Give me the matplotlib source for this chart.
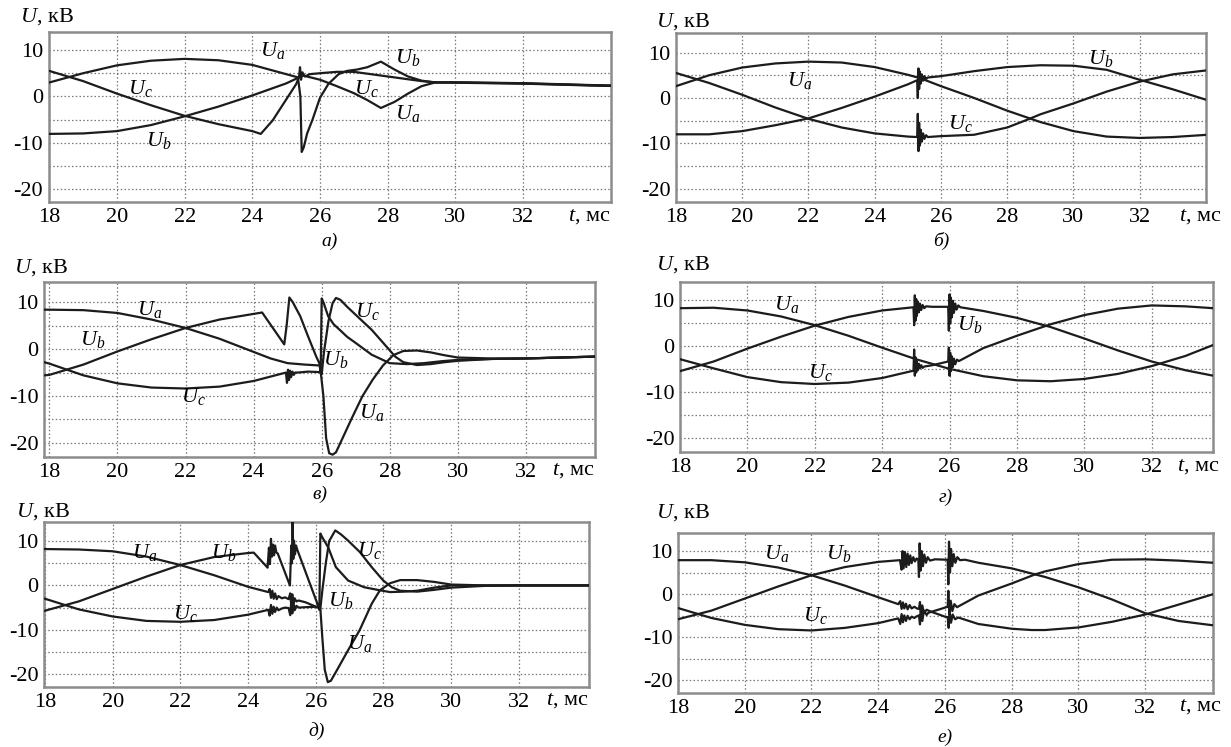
import matplotlib
matplotlib.use("Agg")
import matplotlib.pyplot as plt
from matplotlib.ticker import FixedLocator

plt.rcParams['font.family'] = ['Liberation Serif', 'DejaVu Serif']
plt.rcParams['mathtext.fontset'] = 'custom'
plt.rcParams['mathtext.rm'] = 'Liberation Serif'
plt.rcParams['mathtext.it'] = 'Liberation Serif:italic'
plt.rcParams['axes.unicode_minus'] = False

W, H = 1231, 747

# ---------------- common ticks ----------------
x_ticks = [18, 20, 22, 24, 26, 28, 30, 32]
y_ticks = [10, 0, -10, -20]
y_minor = [5, -5, -15]
panel_names = ['а)', 'б)', 'в)', 'г)', 'д)', 'е)']

# ---------------- panel а ----------------
a_Ua_t = [18, 19, 20, 21, 22, 23, 24, 25, 25.35, 25.5, 26, 26.5, 27, 27.4, 27.8, 28.2, 28.6, 29, 29.4, 30, 31, 32, 33, 34, 34.6]
a_Ua_u = [3.0, 5.0, 6.7, 7.7, 8.1, 7.8, 6.8, 4.8, 4.1, 4.5, 3.6, 2.2, 0.7, -0.8, -2.5, -1.2, 0.6, 2.2, 3.0, 3.0, 2.9, 2.8, 2.6, 2.4, 2.3]
a_Ub_t = [18, 19, 20, 21, 22, 23, 24, 25, 25.35, 25.42, 25.46, 25.52, 25.62, 25.78, 26.0, 26.25, 26.55, 26.8, 27.1, 27.4, 27.8, 28.2, 28.6, 29.0, 29.4, 30, 31, 32, 33, 34, 34.6]
a_Ub_u = [-8.1, -8.0, -7.5, -6.2, -4.3, -2.2, 0.2, 2.8, 4.0, 0.0, -12.0, -11.0, -8.0, -5.0, -0.3, 2.7, 4.8, 5.5, 5.8, 6.3, 7.5, 5.8, 4.3, 3.4, 3.0, 3.05, 2.95, 2.85, 2.65, 2.45, 2.35]
a_Uc_t = [18, 19, 20, 21, 22, 23, 24, 24.25, 24.6, 25.3, 25.38, 25.41, 25.44, 25.48, 25.55, 25.7, 26, 26.5, 27, 27.5, 28, 28.5, 29, 29.4, 30, 31, 32, 33, 34, 34.6]
a_Uc_u = [5.5, 3.3, 0.6, -1.9, -4.2, -6.0, -7.5, -8.1, -5.2, 2.7, 4.2, 6.3, 3.6, 5.2, 4.3, 4.8, 5.0, 5.3, 5.3, 4.8, 4.3, 3.8, 3.3, 3.05, 2.95, 2.85, 2.75, 2.55, 2.35, 2.25]
a_labels = [('a', 24.61, 9.9), ('b', 28.58, 8.5), ('c', 20.69, 1.65), ('c', 27.36, 1.65), ('a', 28.58, -3.7), ('b', 21.22, -9.5)]

# ---------------- panel б ----------------
b_Ua_t = [18, 19, 20, 21, 22, 23, 24, 25, 25.3, 25.5, 26, 27, 28, 29, 30, 31, 32, 33, 34.05]
b_Ua_u = [2.6, 5.0, 6.7, 7.6, 8.0, 7.8, 6.8, 5.1, 4.5, 4.0, 2.6, 0.0, -2.8, -5.3, -7.3, -8.5, -8.8, -8.6, -8.1]
b_Ub_t = [18, 19, 20, 21, 22, 23, 24, 25, 25.28, 25.3, 25.32, 25.34, 25.36, 25.39, 25.42, 25.46, 25.5, 25.55, 25.6, 26, 27, 28, 29, 30, 31, 32, 33, 34.05]
b_Ub_u = [-8.0, -8.0, -7.3, -6.0, -4.5, -2.2, 0.3, 3.0, 3.9, 0.0, 6.5, 2.0, 5.8, 3.2, 5.2, 3.8, 4.8, 4.2, 4.5, 4.8, 5.9, 6.8, 7.2, 7.1, 6.2, 4.0, 1.9, -0.5]
b_Uc_t = [18, 19, 20, 21, 22, 23, 24, 25, 25.28, 25.3, 25.32, 25.34, 25.36, 25.39, 25.42, 25.46, 25.5, 25.55, 25.6, 26, 27, 28, 28.6, 29, 30, 31, 32, 33, 34.05]
b_Uc_u = [5.5, 3.3, 0.7, -2.1, -4.6, -6.5, -7.8, -8.5, -8.6, -3.5, -11.7, -5.5, -10.5, -7.0, -9.6, -7.8, -9.0, -8.2, -8.6, -8.4, -8.1, -6.5, -4.8, -3.6, -1.2, 1.4, 3.6, 5.2, 6.1]
b_labels = [('a', 21.74, 3.9), ('b', 30.82, 8.7), ('c', 26.6, -5.7)]

# ---------------- panel в ----------------
c_Ua_t = [17.85, 18, 19, 20, 21, 22, 23, 24, 24.5, 25.0, 25.5, 25.95, 26.05, 26.13, 26.22, 26.32, 26.42, 26.6, 26.9, 27.2, 27.5, 27.8, 28.1, 28.4, 28.8, 29.2, 29.6, 30, 31, 32, 33, 34.03]
c_Ua_u = [8.4, 8.4, 8.3, 7.7, 6.3, 4.5, 2.2, -0.6, -2.0, -3.0, -3.3, -3.5, -10.0, -19.0, -22.2, -22.5, -22.0, -19.2, -14.5, -10.0, -6.5, -3.5, -1.3, -0.4, -0.3, -0.7, -1.3, -1.8, -2.0, -2.0, -1.8, -1.6]
c_Ub_t = [17.85, 18, 19, 20, 21, 22, 23, 24, 24.25, 24.9, 24.97, 25.05, 25.15, 25.37, 25.6, 25.84, 25.93, 25.97, 26.0, 26.05, 26.19, 26.35, 26.53, 26.75, 27.0, 27.47, 28.0, 28.5, 29, 29.5, 30, 31, 32, 33, 34.03]
c_Ub_u = [-5.6, -5.5, -3.3, -0.5, 2.1, 4.5, 6.3, 7.5, 7.8, 1.0, 5.0, 11.0, 10.0, 7.0, 2.7, -1.6, -3.0, -5.0, 10.8, 10.0, 7.0, 5.3, 4.1, 2.6, 1.3, -1.2, -3.0, -3.2, -3.0, -2.6, -2.3, -2.1, -2.0, -1.8, -1.6]
c_Uc_t = [17.85, 18, 19, 20, 21, 22, 23, 24, 24.9, 24.95, 24.98, 25.01, 25.04, 25.07, 25.1, 25.14, 25.18, 25.22, 25.3, 25.6, 25.95, 26.0, 26.07, 26.2, 26.32, 26.42, 26.55, 26.75, 27.0, 27.47, 27.81, 28.16, 28.4, 28.8, 29.2, 29.6, 30, 31, 32, 33, 34.03]
c_Uc_u = [-2.8, -3.1, -5.6, -7.3, -8.2, -8.4, -8.0, -6.8, -5.1, -5.0, -7.2, -4.4, -6.6, -4.6, -6.0, -4.8, -5.5, -5.0, -5.0, -4.8, -4.9, -5.3, -0.5, 6.0, 9.8, 10.9, 10.5, 9.0, 7.3, 4.1, 1.3, -1.6, -2.8, -3.4, -3.2, -2.8, -2.5, -2.1, -2.0, -1.8, -1.6]
c_labels = [('a', 20.95, 8.4), ('b', 19.27, 2.0), ('c', 22.23, -10.1), ('c', 27.35, 8.0), ('b', 26.42, -2.3), ('a', 27.47, -13.6)]

# ---------------- panel г ----------------
d_Ua_t = [18, 19, 20, 21, 22, 23, 24, 25, 26, 27, 28, 29, 30, 31, 32, 33, 33.83]
d_Ua_u = [8.2, 8.3, 7.7, 6.4, 4.5, 2.2, -0.4, -2.9, -5.0, -6.6, -7.5, -7.7, -7.2, -6.1, -4.4, -2.2, 0.2]
d_Ub_t = [18, 19, 20, 21, 22, 23, 24, 24.93, 24.95, 24.97, 24.99, 25.01, 25.03, 25.06, 25.09, 25.12, 25.16, 25.2, 25.25, 25.3, 25.5, 25.96, 25.98, 26.0, 26.02, 26.04, 26.07, 26.1, 26.13, 26.17, 26.21, 26.26, 26.32, 27, 28, 29, 30, 31, 32, 33, 33.83]
d_Ub_u = [-5.5, -3.4, -0.6, 2.0, 4.4, 6.3, 7.7, 8.4, 4.5, 11.0, 5.5, 10.2, 6.5, 9.6, 7.3, 9.2, 7.8, 8.9, 8.2, 8.6, 8.5, 8.5, 3.3, 11.2, 5.0, 10.5, 6.2, 9.8, 7.2, 9.2, 7.9, 8.8, 8.4, 7.6, 6.1, 4.1, 1.6, -1.0, -3.4, -5.3, -6.5]
d_Uc_t = [18, 19, 20, 21, 22, 23, 24, 24.93, 24.95, 24.97, 24.99, 25.01, 25.03, 25.06, 25.09, 25.12, 25.16, 25.2, 25.25, 25.5, 25.96, 25.98, 26.0, 26.02, 26.04, 26.07, 26.1, 26.13, 26.17, 26.22, 26.28, 27, 28, 29, 30, 31, 32, 33, 33.83]
d_Uc_u = [-2.9, -4.9, -6.8, -7.9, -8.3, -8.0, -7.0, -5.4, -0.8, -6.5, -2.5, -5.8, -3.4, -5.3, -3.9, -4.9, -4.2, -4.8, -4.5, -4.2, -3.4, -0.4, -6.5, -1.5, -5.5, -2.3, -4.6, -2.8, -4.0, -3.0, -3.3, -0.5, 2.2, 4.7, 6.7, 8.1, 8.8, 8.6, 8.2]
d_labels = [('a', 21.17, 9.1), ('b', 26.59, 4.7), ('c', 22.16, -5.8)]

# ---------------- panel д ----------------
e_Ua_t = [18, 19, 20, 21, 22, 23, 24, 24.6, 24.64, 24.68, 24.72, 24.76, 24.8, 24.85, 24.9, 25.0, 25.1, 25.2, 25.25, 25.28, 25.31, 25.34, 25.38, 25.43, 25.5, 25.7, 26.07, 26.14, 26.2, 26.27, 26.36, 26.45, 26.6, 26.96, 27.3, 27.66, 27.9, 28.2, 28.5, 29.0, 29.5, 30, 31, 32, 33, 34.1]
e_Ua_u = [8.2, 8.1, 7.7, 6.5, 4.6, 2.3, -0.3, -1.5, -0.8, -2.8, -1.2, -3.0, -1.8, -3.1, -2.4, -2.9, -2.7, -3.1, -1.8, -4.6, -2.0, -4.2, -2.9, -3.6, -3.4, -3.8, -5.0, -5.3, -12.0, -19.0, -21.8, -21.5, -19.5, -14.6, -10.1, -4.1, -1.1, 0.5, 1.2, 1.2, 0.8, 0.2, 0.0, 0.0, 0.0, 0.0]
e_Ub_t = [18, 19, 20, 21, 22, 23, 24, 24.17, 24.58, 24.62, 24.65, 24.68, 24.71, 24.74, 24.77, 24.8, 24.84, 24.88, 25.24, 25.28, 25.3, 25.32, 25.34, 25.36, 25.39, 25.42, 25.46, 26.07, 26.11, 26.14, 26.2, 26.37, 26.6, 26.96, 27.43, 27.9, 28.2, 28.6, 29.0, 29.5, 30, 31, 32, 33, 34.1]
e_Ub_u = [-5.7, -3.6, -0.8, 2.0, 4.6, 6.4, 7.3, 7.4, 4.0, 8.5, 4.8, 10.5, 6.5, 9.2, 6.8, 9.0, 7.4, 7.2, 0.0, 9.0, 5.0, 14.3, 6.0, 10.1, 7.0, 9.0, 8.0, -4.5, -5.5, 11.7, 10.8, 8.6, 4.1, 1.1, -0.4, -1.1, -1.5, -1.4, -1.2, -0.5, 0.0, 0.0, 0.0, 0.0, 0.0]
e_Uc_t = [18, 19, 20, 21, 22, 23, 24, 24.6, 24.64, 24.68, 24.72, 24.76, 24.8, 24.85, 24.9, 25.0, 25.1, 25.2, 25.25, 25.28, 25.31, 25.34, 25.38, 25.43, 25.5, 25.7, 26.07, 26.14, 26.2, 26.3, 26.4, 26.58, 26.75, 26.96, 27.31, 27.66, 28.0, 28.25, 28.5, 29.0, 29.5, 30, 31, 32, 33, 34.1]
e_Uc_u = [-3.0, -5.4, -7.0, -8.0, -8.2, -7.8, -6.6, -5.5, -6.8, -4.4, -6.4, -4.8, -6.0, -5.0, -5.6, -5.2, -5.0, -5.1, -6.7, -3.6, -6.3, -4.2, -5.6, -4.6, -5.0, -4.9, -4.8, -5.2, -1.0, 5.0, 10.0, 12.4, 11.5, 10.1, 7.5, 4.1, 1.1, -0.4, -1.2, -1.4, -1.0, -0.5, -0.1, 0.0, 0.0, 0.0]
e_labels = [('a', 20.94, 7.5), ('b', 23.27, 7.5), ('c', 22.16, -6.4), ('c', 27.6, 7.9), ('b', 26.73, -3.4), ('a', 27.31, -13.1)]

# ---------------- panel е ----------------
f_Ua_t = [18, 19, 20, 21, 22, 23, 24, 24.6, 24.66, 24.7, 24.74, 24.78, 24.83, 24.88, 24.94, 25.0, 25.08, 25.16, 25.22, 25.25, 25.28, 25.32, 25.37, 25.45, 25.6, 26.0, 26.08, 26.11, 26.14, 26.18, 26.23, 26.3, 26.4, 27, 28, 28.6, 29, 30, 31, 32, 33, 34.03]
f_Ua_u = [7.9, 7.9, 7.4, 6.2, 4.4, 2.0, -0.7, -2.3, -1.6, -3.4, -1.9, -3.3, -2.2, -3.5, -2.5, -3.3, -2.9, -3.3, -3.4, -1.8, -5.0, -2.6, -4.3, -3.6, -4.1, -5.2, -5.3, -7.8, -4.0, -6.6, -4.7, -5.8, -5.4, -6.9, -8.0, -8.3, -8.3, -7.7, -6.4, -4.7, -2.4, 0.0]
f_Ub_t = [18, 19, 20, 21, 22, 23, 24, 24.65, 24.7, 24.73, 24.76, 24.8, 24.84, 24.88, 24.92, 24.96, 25.0, 25.05, 25.1, 25.15, 25.2, 25.22, 25.24, 25.27, 25.3, 25.34, 25.38, 25.43, 25.48, 25.55, 25.7, 26.08, 26.1, 26.12, 26.15, 26.18, 26.22, 26.26, 26.31, 26.37, 26.45, 26.6, 27, 28, 28.7, 29, 30, 31, 32, 33, 34.03]
f_Ub_u = [-5.8, -3.8, -1.0, 1.8, 4.4, 6.3, 7.5, 7.9, 5.7, 10.0, 6.0, 9.8, 6.3, 9.4, 6.8, 9.0, 7.2, 8.6, 7.6, 8.3, 8.0, 4.0, 11.8, 5.5, 10.0, 6.5, 9.2, 7.3, 8.6, 7.8, 8.1, 8.0, 2.3, 12.2, 5.0, 10.5, 6.5, 9.3, 7.3, 8.6, 7.9, 8.0, 7.3, 6.0, 4.6, 4.0, 1.6, -1.2, -4.4, -6.2, -7.2]
f_Uc_t = [18, 19, 20, 21, 22, 23, 24, 24.6, 24.66, 24.7, 24.74, 24.78, 24.83, 24.88, 24.94, 25.0, 25.08, 25.16, 25.22, 25.25, 25.28, 25.32, 25.37, 25.45, 25.5, 26.0, 26.08, 26.1, 26.13, 26.17, 26.22, 26.28, 26.36, 27, 28, 28.7, 29, 30, 31, 32, 33, 34.03]
f_Uc_u = [-3.2, -5.5, -7.1, -8.1, -8.4, -7.8, -6.7, -5.6, -6.9, -4.6, -6.5, -4.9, -6.2, -5.0, -5.8, -5.2, -5.5, -5.1, -4.9, -7.0, -2.8, -6.2, -3.8, -4.8, -4.3, -3.1, -2.9, 0.8, -4.8, -1.5, -3.9, -2.3, -3.0, -0.3, 2.5, 4.6, 5.3, 7.0, 8.0, 8.1, 7.8, 7.3]
f_labels = [('a', 20.94, 9.5), ('b', 22.82, 9.5), ('c', 22.12, -5.0)]

# ---------------- layout (pixels) ----------------
boxes = [(48.6, 32, 611, 202), (676, 33, 1206, 202),
         (44.3, 282, 595, 457), (680, 282, 1213, 452),
         (44.3, 522, 589, 687), (678, 533, 1213, 693)]
xlims = [(17.98, 34.6), (18.0, 34.0), (17.85, 34.03), (18.0, 33.82), (17.98, 34.08), (18.0, 34.03)]
ylims = [(-22.8, 13.9), (-22.9, 14.3), (-23.0, 14.3), (-23.1, 13.9), (-22.9, 14.3), (-22.9, 14.2)]
ulabel_pos = [(20, 17), (656, 22), (14, 268), (656, 265), (16, 512), (656, 513)]
tlabel_right = [611, 1222, 595, 1220, 589, 1222]
caption_pos = [(330, 241), (941, 241), (320, 494), (946, 497), (317, 731), (945, 737)]

panels = [
    ((a_Ua_t, a_Ua_u), (a_Ub_t, a_Ub_u), (a_Uc_t, a_Uc_u), a_labels),
    ((b_Ua_t, b_Ua_u), (b_Ub_t, b_Ub_u), (b_Uc_t, b_Uc_u), b_labels),
    ((c_Ua_t, c_Ua_u), (c_Ub_t, c_Ub_u), (c_Uc_t, c_Uc_u), c_labels),
    ((d_Ua_t, d_Ua_u), (d_Ub_t, d_Ub_u), (d_Uc_t, d_Uc_u), d_labels),
    ((e_Ua_t, e_Ua_u), (e_Ub_t, e_Ub_u), (e_Uc_t, e_Uc_u), e_labels),
    ((f_Ua_t, f_Ua_u), (f_Ub_t, f_Ub_u), (f_Uc_t, f_Uc_u), f_labels),
]

FS = 16
fig = plt.figure(figsize=(W / 100, H / 100), dpi=100)

for i, (ca, cb, cc, labels) in enumerate(panels):
    l, t, r, b = boxes[i]
    ax = fig.add_axes([l / W, 1 - b / H, (r - l) / W, (b - t) / H])
    ax.set_xlim(*xlims[i])
    ax.set_ylim(*ylims[i])
    ax.xaxis.set_major_locator(FixedLocator(x_ticks))
    ax.set_xticklabels([str(v) for v in x_ticks])
    ax.yaxis.set_major_locator(FixedLocator(y_ticks))
    ax.set_yticklabels([str(v) for v in y_ticks])
    ax.yaxis.set_minor_locator(FixedLocator(y_minor))
    ax.grid(which='both', linestyle=(0, (1.2, 1.8)), color='#777777', linewidth=0.9)
    ax.set_axisbelow(True)
    ax.tick_params(which='both', length=0, labelsize=FS)
    ax.tick_params(axis='x', pad=4)
    ax.tick_params(axis='y', pad=4)
    for s in ax.spines.values():
        s.set_color('#8c8c8c')
        s.set_linewidth(1.8)
    for tt, uu in (ca, cb, cc):
        ax.plot(tt, uu, color='#1c1c1c', linewidth=1.6, zorder=3)
    for ph, x, y in labels:
        ax.text(x, y, r'$U_%s$' % ph, fontsize=FS, ha='center', va='center', zorder=4)
    ux, uy = ulabel_pos[i]
    fig.text(ux / W, 1 - uy / H, r'$U$, кВ', fontsize=FS, ha='left', va='center')
    fig.text(tlabel_right[i] / W, 1 - (b + 14) / H, r'$t$, мс', fontsize=FS, ha='right', va='center')
    cx, cy = caption_pos[i]
    fig.text(cx / W, 1 - cy / H, panel_names[i], fontsize=FS - 2, ha='center', va='center', style='italic')

fig.savefig('out.png', dpi=100)
